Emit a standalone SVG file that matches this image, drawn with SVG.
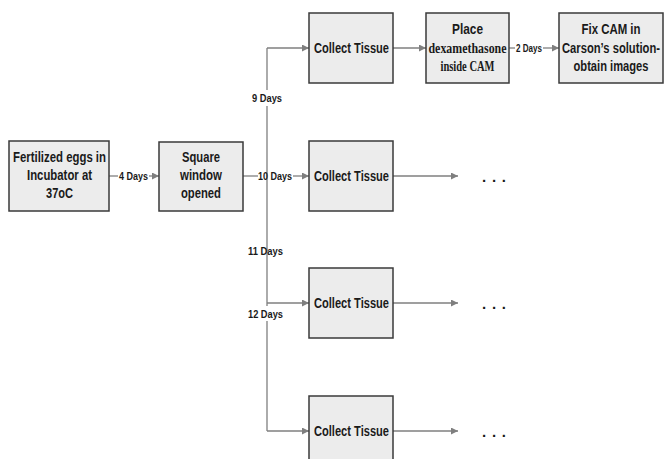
<svg xmlns="http://www.w3.org/2000/svg" width="665" height="459" viewBox="0 0 665 459">
<defs>
<marker id="ah" markerWidth="8" markerHeight="8" refX="7" refY="3.5" orient="auto" markerUnits="userSpaceOnUse">
<path d="M0,0 L7,3.5 L0,7 Z" fill="#7f7f7f"/>
</marker>
<style>
.box{fill:#ececec;stroke:#3a3a3a;stroke-width:1.5}
.t{font-family:"Liberation Sans",Arial,sans-serif;font-weight:bold;font-size:15px;fill:#1a1a1a;text-anchor:middle}
.s{font-family:"Liberation Serif","Times New Roman",serif;font-weight:bold;font-size:14px;fill:#1a1a1a;text-anchor:middle}
.l{font-family:"Liberation Sans",Arial,sans-serif;font-weight:bold;font-size:11.5px;fill:#1a1a1a}
.c{stroke:#7f7f7f;stroke-width:1.3;fill:none}
.d{font-family:"Liberation Sans",Arial,sans-serif;font-weight:bold;font-size:15px;fill:#1a1a1a}
</style>
</defs>
<rect width="665" height="459" fill="#ffffff"/>
<g id="connectors">
<line class="c" x1="109" y1="176" x2="118" y2="176"/>
<line class="c" x1="149" y1="176" x2="159" y2="176" marker-end="url(#ah)"/>
<line class="c" x1="243" y1="176" x2="258" y2="176"/>
<line class="c" x1="293" y1="176" x2="309" y2="176" marker-end="url(#ah)"/>
<line class="c" x1="267" y1="48" x2="267" y2="90"/>
<line class="c" x1="267" y1="106" x2="267" y2="306"/>
<line class="c" x1="267" y1="321" x2="267" y2="431"/>
<line class="c" x1="267" y1="48" x2="309" y2="48" marker-end="url(#ah)"/>
<line class="c" x1="267" y1="303" x2="309" y2="303" marker-end="url(#ah)"/>
<line class="c" x1="267" y1="431" x2="309" y2="431" marker-end="url(#ah)"/>
<line class="c" x1="393" y1="48" x2="426" y2="48" marker-end="url(#ah)"/>
<line class="c" x1="509" y1="48" x2="515" y2="48"/>
<line class="c" x1="543" y1="48" x2="559" y2="48" marker-end="url(#ah)"/>
<line class="c" x1="393" y1="176" x2="458" y2="176" marker-end="url(#ah)"/>
<line class="c" x1="393" y1="303" x2="458" y2="303" marker-end="url(#ah)"/>
<line class="c" x1="393" y1="431" x2="458" y2="431" marker-end="url(#ah)"/>
<text class="l" x="119" y="180" textLength="29" lengthAdjust="spacingAndGlyphs">4 Days</text>
<text class="l" x="258" y="180" textLength="34" lengthAdjust="spacingAndGlyphs">10 Days</text>
<text class="l" x="252" y="102" textLength="30" lengthAdjust="spacingAndGlyphs">9 Days</text>
<text class="l" x="248" y="255" textLength="35" lengthAdjust="spacingAndGlyphs">11 Days</text>
<text class="l" x="248" y="318" textLength="35" lengthAdjust="spacingAndGlyphs">12 Days</text>
<text class="l" x="516" y="52" textLength="26" lengthAdjust="spacingAndGlyphs">2 Days</text>
</g>
<g id="eggs">
<rect class="box" x="9" y="141" width="100" height="70"/>
<text class="t" x="59.5" y="162" textLength="93" lengthAdjust="spacingAndGlyphs">Fertilized eggs in</text>
<text class="t" x="59.5" y="180" textLength="65" lengthAdjust="spacingAndGlyphs">Incubator at</text>
<text class="t" x="59.5" y="198" textLength="27" lengthAdjust="spacingAndGlyphs">37oC</text>
</g>
<g id="window">
<rect class="box" x="159" y="142" width="84" height="69"/>
<text class="t" x="201" y="162" textLength="38" lengthAdjust="spacingAndGlyphs">Square</text>
<text class="t" x="201" y="180" textLength="42" lengthAdjust="spacingAndGlyphs">window</text>
<text class="t" x="201" y="198" textLength="40" lengthAdjust="spacingAndGlyphs">opened</text>
</g>
<g id="collect1">
<rect class="box" x="309" y="13" width="84" height="70"/>
<text class="t" x="351.5" y="53" textLength="75" lengthAdjust="spacingAndGlyphs">Collect Tissue</text>
</g>
<g id="place">
<rect class="box" x="426" y="13" width="83" height="70"/>
<text class="t" x="467.5" y="34" textLength="31" lengthAdjust="spacingAndGlyphs">Place</text>
<text class="s" x="467.5" y="53" textLength="78" lengthAdjust="spacingAndGlyphs">dexamethasone</text>
<text class="s" x="467.5" y="71" textLength="54" lengthAdjust="spacingAndGlyphs">inside CAM</text>
</g>
<g id="fix">
<rect class="box" x="559" y="13" width="104" height="70"/>
<text class="t" x="611" y="34" textLength="59" lengthAdjust="spacingAndGlyphs">Fix CAM in</text>
<text class="t" x="611" y="53" textLength="98" lengthAdjust="spacingAndGlyphs">Carson’s solution-</text>
<text class="t" x="611" y="71" textLength="75" lengthAdjust="spacingAndGlyphs">obtain images</text>
</g>
<g id="collect2">
<rect class="box" x="309" y="141" width="84" height="70"/>
<text class="t" x="351.5" y="181" textLength="75" lengthAdjust="spacingAndGlyphs">Collect Tissue</text>
</g>
<g id="collect3">
<rect class="box" x="309" y="268" width="84" height="70"/>
<text class="t" x="351.5" y="308" textLength="75" lengthAdjust="spacingAndGlyphs">Collect Tissue</text>
</g>
<g id="collect4">
<rect class="box" x="309" y="396" width="84" height="70"/>
<text class="t" x="351.5" y="436" textLength="75" lengthAdjust="spacingAndGlyphs">Collect Tissue</text>
</g>
<g id="dots">
<text class="d" x="482" y="182" textLength="24" lengthAdjust="spacing">. . .</text>
<text class="d" x="482" y="309" textLength="24" lengthAdjust="spacing">. . .</text>
<text class="d" x="482" y="437" textLength="24" lengthAdjust="spacing">. . .</text>
</g>
</svg>
